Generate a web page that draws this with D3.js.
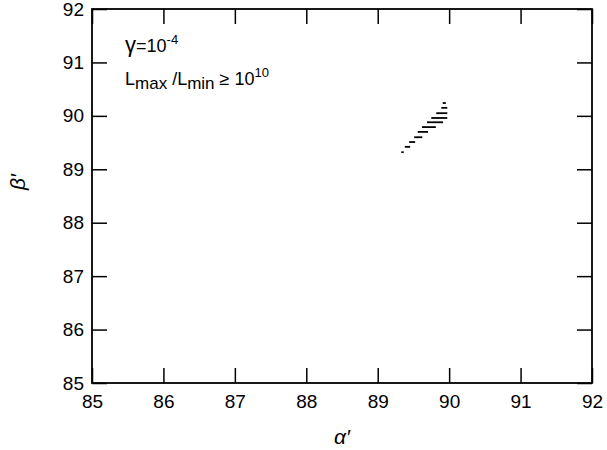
<!DOCTYPE html>
<html>
<head>
<meta charset="utf-8">
<script src="https://cdn.jsdelivr.net/npm/d3@7"></script>
<style>
  body { margin: 0; background: #fff; }
  text { font-family: "Liberation Sans", Arial, sans-serif; fill: #000; }
</style>
</head>
<body>
<div id="chart"></div>
<script>
// axis ticks
var xTicks = [85, 86, 87, 88, 89, 90, 91, 92];
var yTicks = [85, 86, 87, 88, 89, 90, 91, 92];

// hatched region: one short segment per beta' row
var hatchBeta      = [90.24, 90.15, 90.05, 89.96, 89.88, 89.79, 89.70, 89.60, 89.51, 89.42, 89.32];
var hatchAlphaFrom = [89.91, 89.89, 89.82, 89.75, 89.69, 89.62, 89.56, 89.51, 89.44, 89.38, 89.33];
var hatchAlphaTo   = [89.94, 89.96, 89.96, 89.96, 89.90, 89.80, 89.69, 89.61, 89.51, 89.44, 89.35];

var W = 607, H = 450;
var margin = {top: 9, right: 15, bottom: 67, left: 92};
var w = W - margin.left - margin.right,
    h = H - margin.top - margin.bottom;

var svg = d3.select("#chart").append("svg")
    .attr("width", W)
    .attr("height", H);

var g = svg.append("g")
    .attr("transform", "translate(" + margin.left + "," + margin.top + ")");

var x = d3.scaleLinear().domain([85, 92]).range([0, w]);
var y = d3.scaleLinear().domain([85, 92]).range([h, 0]);

var tickLen = 15;

// bottom axis with labels, inward ticks
g.append("g")
    .attr("transform", "translate(0," + h + ")")
    .call(d3.axisBottom(x).tickValues(xTicks).tickSize(-tickLen).tickPadding(12).tickFormat(d3.format("d")))
    .call(function(a) {
        a.select(".domain").remove();
        a.selectAll("line").attr("stroke-width", 1.5);
        a.selectAll("text").style("font-size", "19px").attr("font-family", null);
    });

// left axis with labels
g.append("g")
    .call(d3.axisLeft(y).tickValues(yTicks).tickSize(-tickLen).tickPadding(8).tickFormat(d3.format("d")))
    .call(function(a) {
        a.select(".domain").remove();
        a.selectAll("line").attr("stroke-width", 1.5);
        a.selectAll("text").style("font-size", "19px").attr("font-family", null);
    });

// top and right ticks, no labels
g.append("g")
    .call(d3.axisTop(x).tickValues(xTicks).tickSize(-tickLen).tickFormat(""))
    .call(function(a) { a.select(".domain").remove(); a.selectAll("line").attr("stroke-width", 1.5); });
g.append("g")
    .attr("transform", "translate(" + w + ",0)")
    .call(d3.axisRight(y).tickValues(yTicks).tickSize(-tickLen).tickFormat(""))
    .call(function(a) { a.select(".domain").remove(); a.selectAll("line").attr("stroke-width", 1.5); });

// frame
g.append("rect")
    .attr("width", w)
    .attr("height", h)
    .attr("fill", "none")
    .attr("stroke", "#000")
    .attr("stroke-width", 1.8);

// hatch segments
g.selectAll(".hatch")
    .data(hatchBeta)
    .enter().append("line")
    .attr("class", "hatch")
    .attr("x1", function(d, i) { return x(hatchAlphaFrom[i]); })
    .attr("x2", function(d, i) { return x(hatchAlphaTo[i]) + 1; })
    .attr("y1", function(d) { return y(d); })
    .attr("y2", function(d) { return y(d); })
    .attr("stroke", "#000")
    .attr("stroke-width", 1.8);

// annotations
var t1 = svg.append("text")
    .attr("x", 125).attr("y", 52)
    .style("font-size", "18px");
t1.append("tspan").style("font-size", "22px").text("γ");
t1.append("tspan").text("=10");
t1.append("tspan").attr("dy", -8).style("font-size", "13px").text("-4");

var t2 = svg.append("text")
    .attr("x", 125).attr("y", 85)
    .style("font-size", "18px");
t2.append("tspan").text("L");
t2.append("tspan").attr("dy", 4).style("font-size", "17px").text("max");
t2.append("tspan").attr("dy", -4).text(" /L");
t2.append("tspan").attr("dy", 4).style("font-size", "17px").text("min");
t2.append("tspan").attr("dy", -4).text(" ≥ 10");
t2.append("tspan").attr("dy", -8).style("font-size", "13px").text("10");

// axis titles
svg.append("text")
    .attr("x", margin.left + w / 2)
    .attr("y", 444)
    .attr("text-anchor", "middle")
    .style("font-size", "21px")
    .style("font-style", "italic")
    .text("α′");

svg.append("text")
    .attr("transform", "translate(25," + (margin.top + h / 2 - 14) + ") rotate(-90)")
    .attr("text-anchor", "middle")
    .style("font-size", "21px")
    .style("font-style", "italic")
    .text("β′");
</script>
</body>
</html>
